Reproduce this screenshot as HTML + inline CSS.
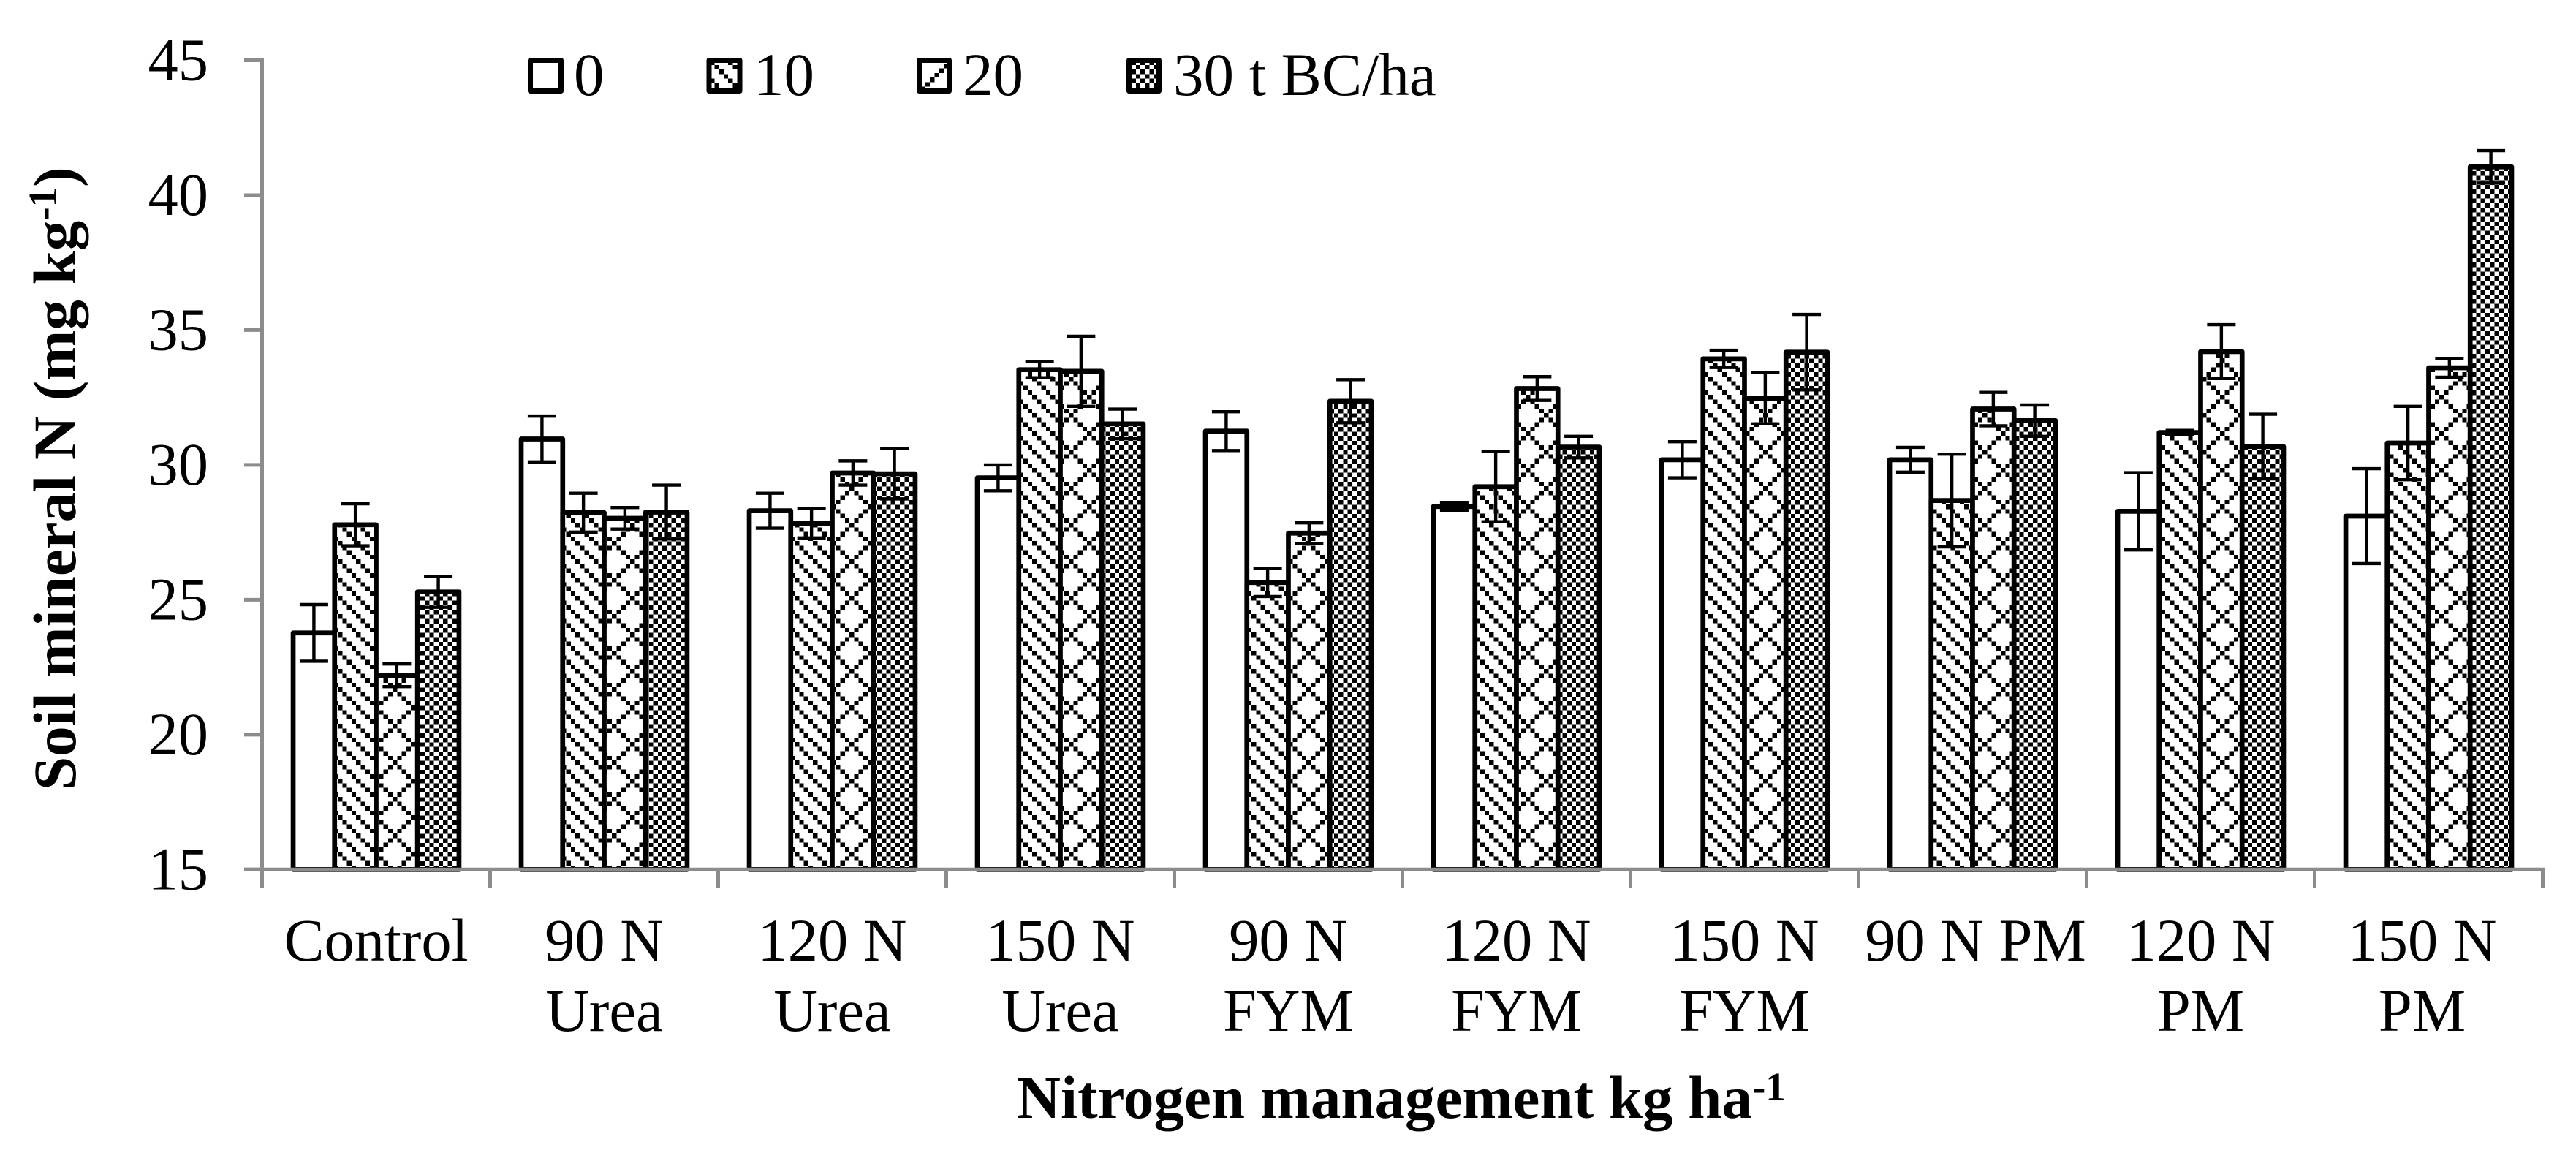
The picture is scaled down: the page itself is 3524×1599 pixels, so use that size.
<!DOCTYPE html>
<html lang="en">
<head>
<meta charset="utf-8">
<title>Soil mineral N by nitrogen management</title>
<style>
html,body{margin:0;padding:0;background:#fff;}
svg{display:block;}
text{font-family:"Liberation Serif",serif;fill:#000;}
</style>
</head>
<body>
<svg id="chart" xmlns="http://www.w3.org/2000/svg" width="3524" height="1599" viewBox="0 0 3524 1599">
  <rect x="0" y="0" width="3524" height="1599" fill="#fff"/>
  <defs id="defs"></defs>
  <g id="bars"></g>
  <g id="errors"></g>
  <g id="axes"></g>
  <g id="legend"></g>
  <text transform="translate(103,1081) rotate(-90)" font-size="83" font-weight="bold">Soil mineral N (mg kg<tspan font-size="55" dy="-26">-1</tspan><tspan dy="26">)</tspan></text>
  <text x="1391" y="1529" font-size="83" font-weight="bold">Nitrogen management kg ha<tspan font-size="55" dy="-24">-1</tspan></text>
</svg>
<script>
const categories = [['Control'],['90 N','Urea'],['120 N','Urea'],['150 N','Urea'],['90 N','FYM'],['120 N','FYM'],['150 N','FYM'],['90 N PM'],['120 N','PM'],['150 N','PM']];
const seriesNames = ['0','10','20','30 t BC/ha'];
const yTicks = [15,20,25,30,35,40,45];
const values0  = [23.77,30.96,28.30,29.52,31.25,28.46,30.19,30.19,28.28,28.10];
const values10 = [27.78,28.23,27.84,33.53,25.64,29.19,33.93,28.68,31.20,30.81];
const values20 = [22.20,28.02,29.70,33.47,27.47,32.83,32.47,32.07,34.20,33.60];
const values30 = [25.29,28.25,29.67,31.52,32.36,30.66,34.18,31.64,30.68,41.05];
const errors0  = [1.05,0.85,0.65,0.48,0.72,0.15,0.67,0.46,1.43,1.76];
const errors10 = [0.78,0.72,0.55,0.30,0.52,1.30,0.32,1.72,0.08,1.36];
const errors20 = [0.42,0.40,0.45,1.30,0.38,0.44,0.95,0.62,1.00,0.35];
const errors30 = [0.57,1.00,0.93,0.55,0.80,0.40,1.40,0.58,1.20,0.60];

const seriesValues = [values0,values10,values20,values30];
const seriesErrors = [errors0,errors10,errors20,errors30];
const NS = 'http://www.w3.org/2000/svg';
const plotLeft = 358.5, plotRight = 3478.5, plotBottom = 1189.3, plotTop = 82.5;
const yMin = yTicks[0], yMax = yTicks[yTicks.length-1];
const groupW = (plotRight-plotLeft)/categories.length;
const barW = groupW/5.5;
const barStroke = 6.7, cell = 6.25, capW = 39;
function yPos(v){ return plotBottom-(v-yMin)/(yMax-yMin)*(plotBottom-plotTop); }
function groupX(i){ return plotLeft+i*groupW; }
function barX(i,s){ return groupX(i)+barW*0.75+s*barW; }
function mk(tag,attrs,parent){
  const el=document.createElementNS(NS,tag);
  for(const k in attrs) el.setAttribute(k,attrs[k]);
  parent.appendChild(el);
  return el;
}
const defs=document.getElementById('defs');
const barsG=document.getElementById('bars');
const errorsG=document.getElementById('errors');
const axesG=document.getElementById('axes');
const legendG=document.getElementById('legend');

function square(p,x,y){
  mk('rect',{x:x,y:y,width:cell,height:cell,fill:'#000','shape-rendering':'crispEdges'},p);
}
function makePattern(id,type,px,py){
  const size = type===2?cell*8:cell*4;
  const p=mk('pattern',{id:id,patternUnits:'userSpaceOnUse',x:px,y:py,width:size,height:size},defs);
  mk('rect',{x:0,y:0,width:size,height:size,fill:'#fff'},p);
  if(type===1){ for(let k=0;k<4;k++) square(p,k*cell,k*cell); }
  if(type===2){ for(let k=0;k<8;k++){ square(p,k*cell,k*cell); square(p,k*cell,(8-k)%8*cell); } }
  if(type===3){ for(let a=0;a<2;a++) for(let b=0;b<2;b++){ square(p,a*2*cell,b*2*cell); square(p,(a*2+1)*cell,(b*2+1)*cell); } }
}
makePattern('pat-1',1,462,1090);
makePattern('pat-2',2,537,1140);
makePattern('pat-3',3,581,1084);
function fillFor(s){
  return s===0?'#fff':'url(#pat-'+s+')';
}

categories.forEach((cat,i)=>{
  seriesValues.forEach((vals,s)=>{
    const left=barX(i,s);
    const top=yPos(vals[i]);
    const bar=mk('rect',{x:left,y:top,width:barW,height:plotBottom-top,fill:fillFor(s),stroke:'#000','stroke-width':barStroke,'stroke-linejoin':'round'},barsG);
    
    
  });
});
categories.forEach((cat,i)=>{
  seriesValues.forEach((vals,s)=>{
    const cx=barX(i,s)+barW/2;
    const hi=yPos(vals[i]+seriesErrors[s][i]);
    const lo=yPos(vals[i]-seriesErrors[s][i]);
    const path=mk('path',{d:'M'+(cx-capW/2)+' '+hi+'H'+(cx+capW/2)+'M'+cx+' '+hi+'V'+lo+'M'+(cx-capW/2)+' '+lo+'H'+(cx+capW/2),fill:'none',stroke:'#000','stroke-width':4.4},errorsG);
    
    
  });
});

const axisColor='#8c8c8c';
const yAxis=mk('line',{x1:plotLeft,x2:plotLeft,y1:plotTop-2.5,y2:1214,stroke:axisColor,'stroke-width':5},axesG);


const xAxis=mk('line',{x1:334,x2:plotRight+2.5,y1:plotBottom,y2:plotBottom,stroke:axisColor,'stroke-width':5},axesG);



yTicks.forEach(t=>{
  const y=yPos(t);
  const tick=mk('line',{x1:334,x2:plotLeft,y1:y,y2:y,stroke:axisColor,'stroke-width':5},axesG);
  
  
  const label=mk('text',{x:285,y:y+27,'text-anchor':'end','font-size':82.5},axesG);
  label.textContent=String(t);
  
  
});
for(let i=0;i<=categories.length;i++){
  const x=groupX(i);
  const tick=mk('line',{x1:x,x2:x,y1:plotBottom,y2:1214,stroke:axisColor,'stroke-width':5},axesG);
  
  
}
categories.forEach((cat,i)=>{
  cat.forEach((line,j)=>{
    let cx=groupX(i)+groupW/2;
    if(cat.length===1&&i>0) cx+=4;
    if(i===categories.length-1) cx-=9;
    const label=mk('text',{x:cx,y:1314+j*96,'text-anchor':'middle','font-size':82.5},axesG);
    label.textContent=line;
    
    
  });
});

const legendSwatchX=[725.5,970,1257.5,1544.5];
const legendTextX=[785,1031,1317,1605];
seriesNames.forEach((name,s)=>{
  const sx=legendSwatchX[s];
  let fill='#fff';
  if(s>0){ fill='url(#legend-pat-'+s+')'; }
  if(s===1) makePattern('legend-pat-1',1,sx+1,82.5);
  if(s===2){
    const p=mk('pattern',{id:'legend-pat-2',patternUnits:'userSpaceOnUse',x:sx,y:82.5,width:50,height:50},defs);
    mk('rect',{x:0,y:0,width:50,height:50,fill:'#fff'},p);
    for(let k=0;k<6;k++) square(p,k*cell+2,36-k*cell);
  }
  if(s===3) makePattern('legend-pat-3',3,sx+3,82.5);
  const sw=mk('rect',{x:sx,y:82.5,width:s>=2?41:42,height:42,fill:fill,stroke:'#000','stroke-width':7,'stroke-linejoin':'round'},legendG);
  
  
  const tx=mk('text',{x:legendTextX[s],y:130,'font-size':83},legendG);
  tx.textContent=name;
  
  
});
</script>
</body>
</html>
